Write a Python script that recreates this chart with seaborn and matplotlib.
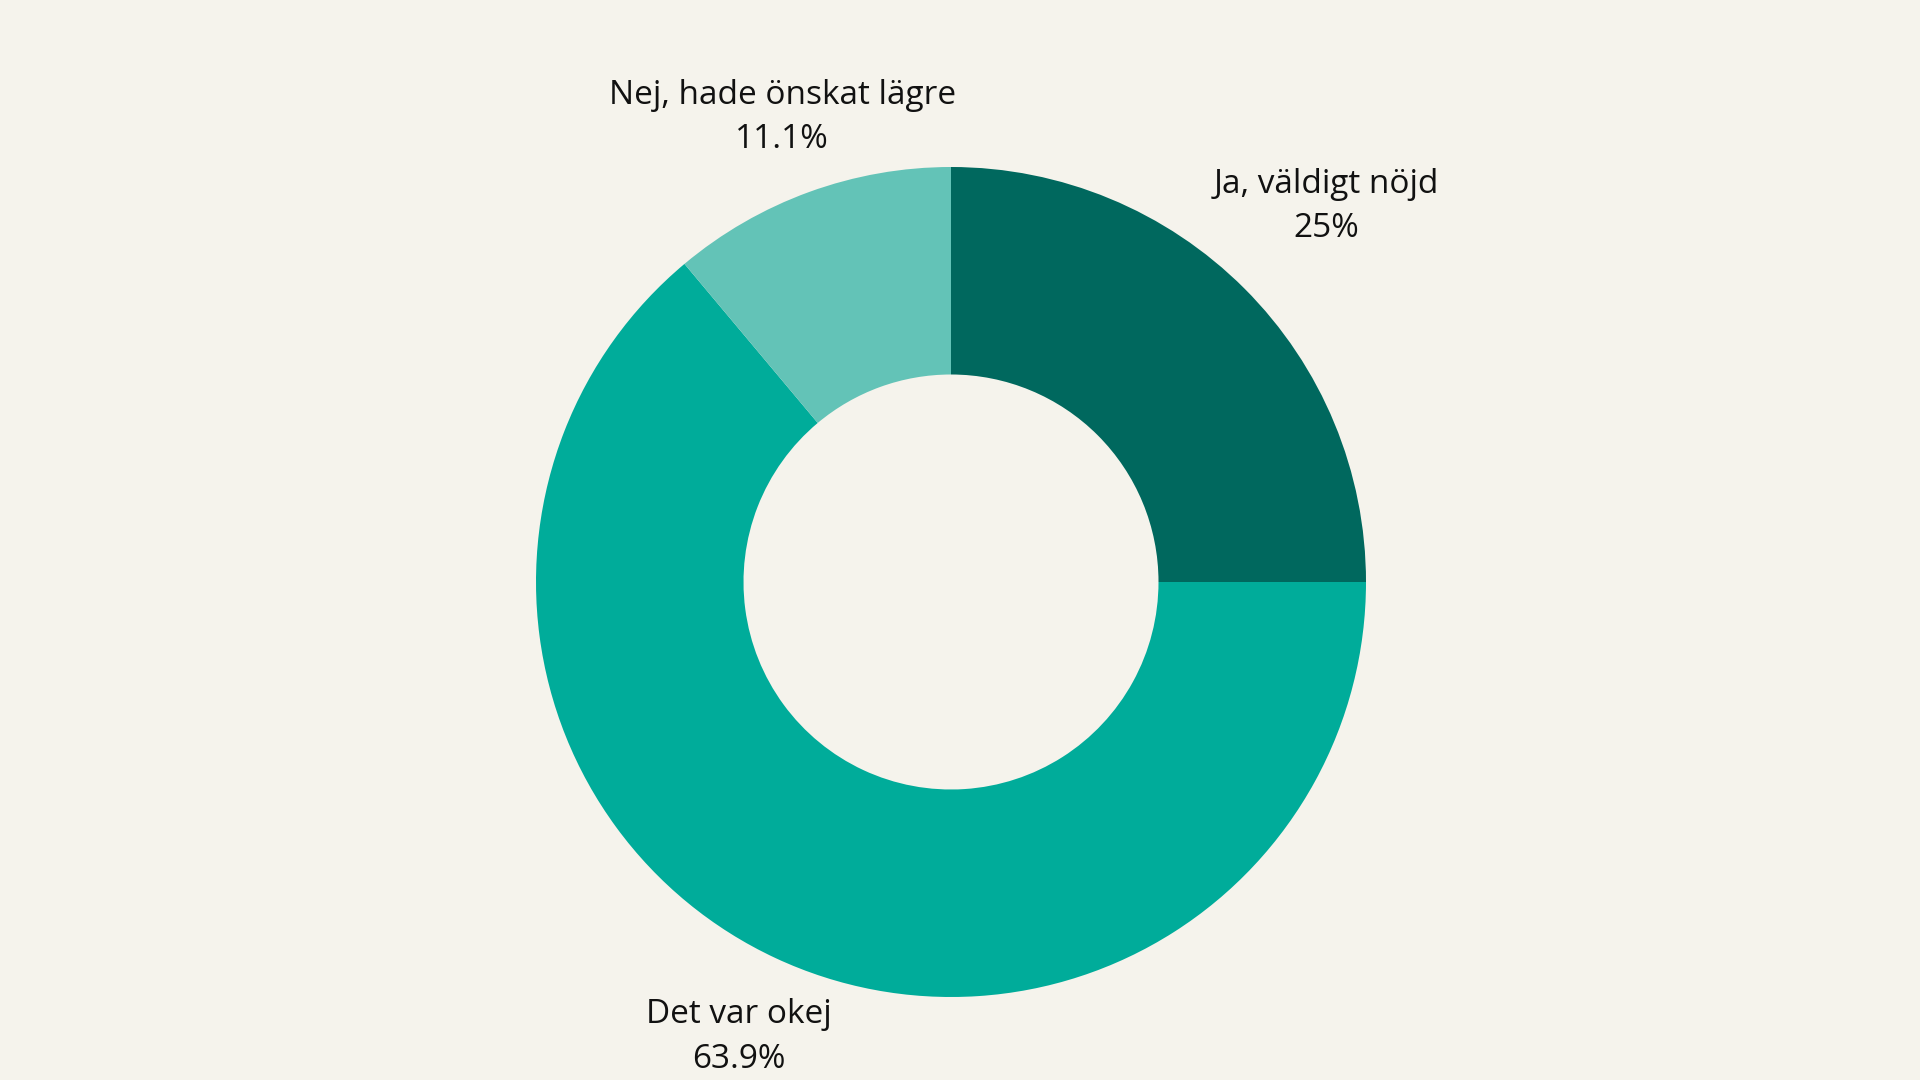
import numpy as np
import matplotlib.pyplot as plt
import seaborn as sns

# survey answers, clockwise from 12 o'clock
labels = ["Ja, väldigt nöjd", "Det var okej", "Nej, hade önskat lägre"]
shares = [25.0, 63.9, 11.1]
pct_text = ["25%", "63.9%", "11.1%"]
colors = ["#00685E", "#00AC9A", "#63C3B7"]
label_dist = [1.28, 1.21, 1.19]

bg = "#F5F3EC"

sns.set_theme(style="white")
plt.rcParams['font.family'] = ['Open Sans', 'DejaVu Sans']

fig = plt.figure(figsize=(19.2, 10.8), dpi=100, facecolor=bg)
# square axes centred on the donut
ax = fig.add_axes([(951 - 415) / 1920, (1080 - 582 - 415) / 1080, 830 / 1920, 830 / 1080])
ax.set_facecolor(bg)

wedges, _ = ax.pie(shares, colors=colors, startangle=90, counterclock=False,
                   radius=1.0, wedgeprops=dict(width=0.5, linewidth=0))
ax.set_xlim(-1, 1)
ax.set_ylim(-1, 1)
ax.set_aspect('equal')

for w, name, pct, d in zip(wedges, labels, pct_text, label_dist):
    mid = np.deg2rad((w.theta1 + w.theta2) / 2)
    ax.text(d * np.cos(mid), d * np.sin(mid), f"{name}\n{pct}",
            ha='center', va='center', fontsize=24, color='#111111',
            linespacing=1.45, clip_on=False)

fig.savefig("out.png", dpi=100, facecolor=bg)
